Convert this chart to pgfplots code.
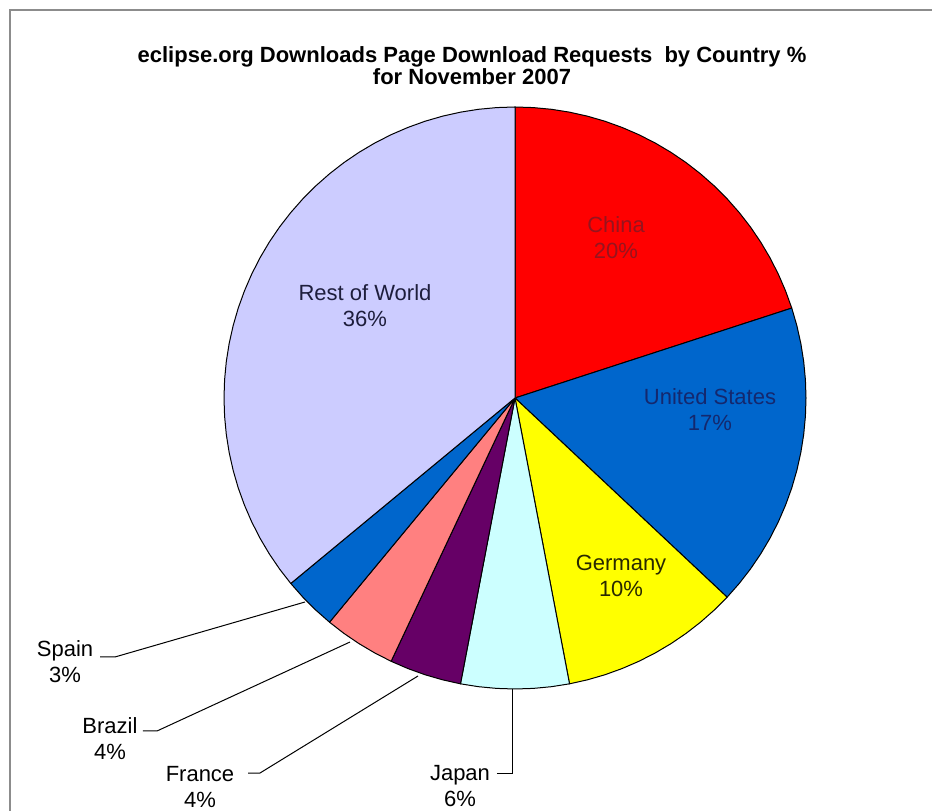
\documentclass[border=0pt]{standalone}
\usepackage{pgfplots}
\pgfplotsset{compat=1.18}
\usepackage{fontspec}
\setmainfont{Liberation Sans}
\definecolor{cChina}{RGB}{255,0,0}
\definecolor{cUS}{RGB}{0,102,204}
\definecolor{cGer}{RGB}{255,255,0}
\definecolor{cJap}{RGB}{204,255,255}
\definecolor{cFra}{RGB}{102,0,102}
\definecolor{cBra}{RGB}{255,128,128}
\definecolor{cSpa}{RGB}{0,102,204}
\definecolor{cRest}{RGB}{204,204,255}
\definecolor{cFrame}{RGB}{140,140,140}
\definecolor{tChina}{RGB}{150,20,30}
\definecolor{tUS}{RGB}{20,40,110}
\definecolor{tGer}{RGB}{40,40,0}
\definecolor{tRest}{RGB}{30,30,60}
\tikzset{lbl/.style={font=\fontsize{22}{26}\selectfont, align=center}}
\begin{document}
\begin{tikzpicture}
\useasboundingbox (0,0) rectangle (932pt,811pt);
\begin{axis}[
  at={(0,0)}, anchor=south west,
  scale only axis, width=932pt, height=811pt,
  xmin=-1.76976, xmax=1.43299, ymin=-1.41924, ymax=1.36770,
  hide axis, clip=false,
]
% Shares (%): China 20, United States 17, Germany 10, Japan 6, France 4, Brazil 4, Spain 3, Rest of World 36
% each slice given in polar coordinates (angle in degrees, radius), clockwise from 90 deg, 3.6 deg = 1%
\addplot[data cs=polar, fill=cChina, draw=black, line width=1pt, line join=round] coordinates {
(0,0) (90,1) (86.4,1) (82.8,1) (79.2,1) (75.6,1) (72,1) (68.4,1) (64.8,1) (61.2,1) (57.6,1) (54,1)
(50.4,1) (46.8,1) (43.2,1) (39.6,1) (36,1) (32.4,1) (28.8,1) (25.2,1) (21.6,1) (18,1) (0,0)};
\addplot[data cs=polar, fill=cUS, draw=black, line width=1pt, line join=round] coordinates {
(0,0) (18,1) (14.4,1) (10.8,1) (7.2,1) (3.6,1) (0,1) (-3.6,1) (-7.2,1) (-10.8,1) (-14.4,1) (-18,1)
(-21.6,1) (-25.2,1) (-28.8,1) (-32.4,1) (-36,1) (-39.6,1) (-43.2,1) (0,0)};
\addplot[data cs=polar, fill=cGer, draw=black, line width=1pt, line join=round] coordinates {
(0,0) (-43.2,1) (-46.8,1) (-50.4,1) (-54,1) (-57.6,1) (-61.2,1) (-64.8,1) (-68.4,1) (-72,1)
(-75.6,1) (-79.2,1) (0,0)};
\addplot[data cs=polar, fill=cJap, draw=black, line width=1pt, line join=round] coordinates {
(0,0) (-79.2,1) (-82.8,1) (-86.4,1) (-90,1) (-93.6,1) (-97.2,1) (-100.8,1) (0,0)};
\addplot[data cs=polar, fill=cFra, draw=black, line width=1pt, line join=round] coordinates {
(0,0) (-100.8,1) (-104.4,1) (-108,1) (-111.6,1) (-115.2,1) (0,0)};
\addplot[data cs=polar, fill=cBra, draw=black, line width=1pt, line join=round] coordinates {
(0,0) (-115.2,1) (-118.8,1) (-122.4,1) (-126,1) (-129.6,1) (0,0)};
\addplot[data cs=polar, fill=cSpa, draw=black, line width=1pt, line join=round] coordinates {
(0,0) (-129.6,1) (-133.2,1) (-136.8,1) (-140.4,1) (0,0)};
\addplot[data cs=polar, fill=cRest, draw=black, line width=1pt, line join=round] coordinates {
(0,0) (-140.4,1) (-144,1) (-147.6,1) (-151.2,1) (-154.8,1) (-158.4,1) (-162,1) (-165.6,1)
(-169.2,1) (-172.8,1) (-176.4,1) (-180,1) (-183.6,1) (-187.2,1) (-190.8,1) (-194.4,1) (-198,1)
(-201.6,1) (-205.2,1) (-208.8,1) (-212.4,1) (-216,1) (-219.6,1) (-223.2,1) (-226.8,1) (-230.4,1)
(-234,1) (-237.6,1) (-241.2,1) (-244.8,1) (-248.4,1) (-252,1) (-255.6,1) (-259.2,1) (-262.8,1)
(-266.4,1) (-270,1) (0,0)};
% leader lines
\addplot[black, line width=1pt] coordinates {(-1.4261,-0.8900) (-1.3746,-0.8900) (-0.7216,-0.7010)};
\addplot[black, line width=1pt] coordinates {(-1.2784,-1.1443) (-1.2302,-1.1443) (-0.5670,-0.8385)};
\addplot[black, line width=1pt] coordinates {(-0.9175,-1.2887) (-0.8763,-1.2887) (-0.3333,-0.9553)};
\addplot[black, line width=1pt] coordinates {(-0.0619,-1.2887) (-0.0069,-1.2887) (-0.0069,-1.0)};
% labels
\node[lbl, text=tChina] at (axis cs:0.3471,0.5498) {China\\20\%};
\node[lbl, text=tUS] at (axis cs:0.6701,-0.0412) {United States\\17\%};
\node[lbl, text=tGer] at (axis cs:0.3643,-0.6117) {Germany\\10\%};
\node[lbl, text=tRest] at (axis cs:-0.5155,0.3162) {Rest of World\\36\%};
\node[lbl] at (axis cs:-1.5464,-0.9072) {Spain\\3\%};
\node[lbl] at (axis cs:-1.3918,-1.1718) {Brazil\\4\%};
\node[lbl] at (axis cs:-1.0825,-1.3368) {France\\4\%};
\node[lbl] at (axis cs:-0.1890,-1.3333) {Japan\\6\%};
% title
\node[anchor=base, font=\fontsize{22}{22}\selectfont\bfseries] at (axis cs:-0.1478,1.1512)
  {eclipse.org Downloads Page Download Requests \ by Country \%};
\node[anchor=base, font=\fontsize{22}{22}\selectfont\bfseries] at (axis cs:-0.1478,1.0790)
  {for November 2007};
% frame
\draw[cFrame, line width=2.5pt] (axis cs:-1.7354,-1.4300) -- (axis cs:-1.7354,1.3333) -- (axis cs:1.4400,1.3333);
\end{axis}
\end{tikzpicture}
\end{document}
